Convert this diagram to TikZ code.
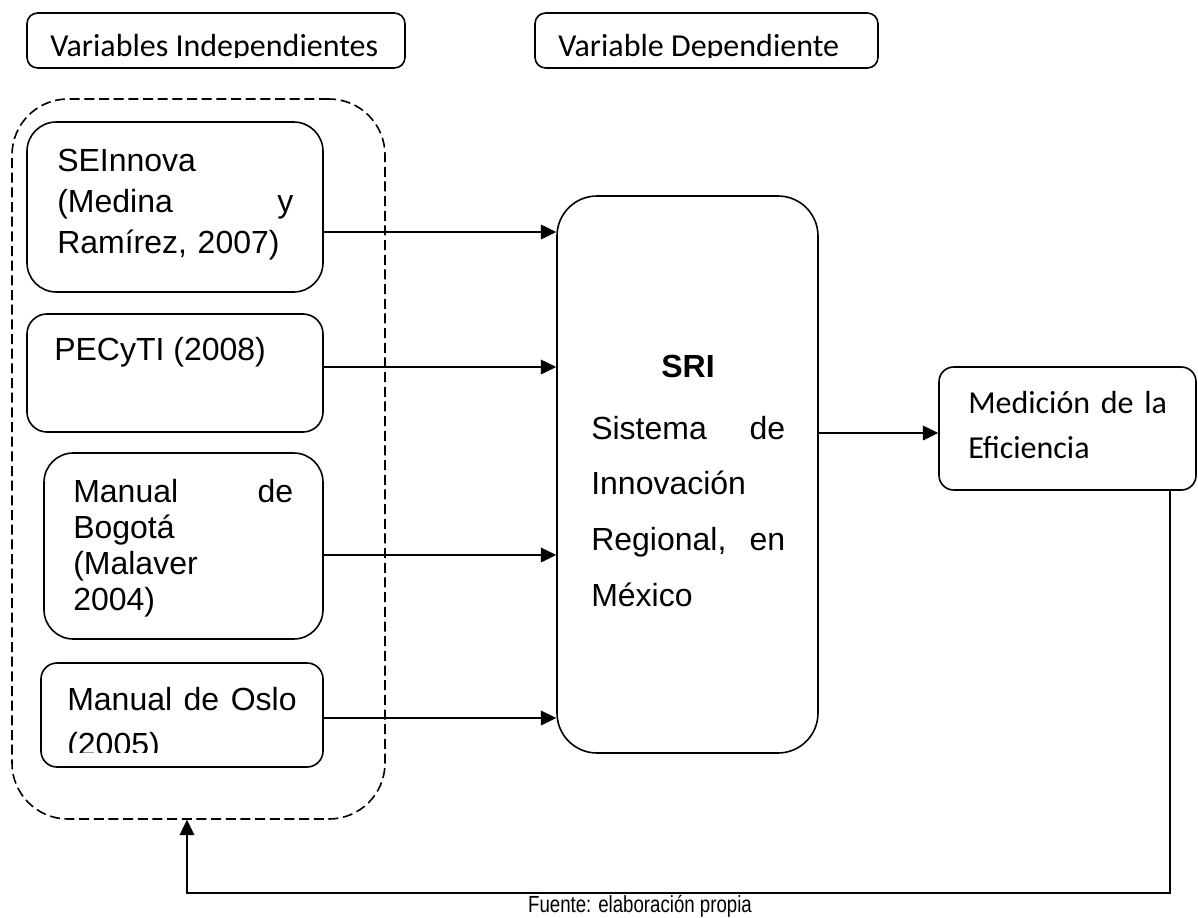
\documentclass[tikz,border=0pt]{standalone}
\usepackage{fontspec}
\setmainfont{Liberation Sans}
\newfontfamily\calibri{Carlito}
\usetikzlibrary{arrows.meta,fit}

\begin{document}
\begin{tikzpicture}[x=0.75pt,y=0.75pt,yscale=-1,xscale=1,
  caja/.style={draw,line width=1.2pt,inner sep=0pt},
  texto/.style={inner sep=0pt,anchor=base west,align=left},
  flecha/.style={line width=1.2pt,-{Triangle[length=11.5pt,width=11pt]}}]
\useasboundingbox (0,0) rectangle (1198,917);

%Headers
\node[caja,rounded corners=8pt,fit={(27,13) (405,68)}] (varind) {};
\node[caja,rounded corners=8pt,fit={(535,13) (878,68)}] (vardep) {};
\begin{scope}
\clip (27,13) rectangle (405,58);
\node[texto,font=\calibri\fontsize{24}{29}\selectfont] (tvarind) at (50,57) {Variables Independientes};
\end{scope}
\begin{scope}
\clip (535,13) rectangle (878,58);
\node[texto,font=\calibri\fontsize{24}{29}\selectfont] (tvardep) at (558,57) {Variable Dependiente};
\end{scope}

%Dashed group
\node[caja,dash pattern=on 7.5pt off 3.5pt,rounded corners=42pt,fit={(12,99) (385,819)}] (grupo) {};

%Independent variables
\node[caja,rounded corners=22pt,fit={(27,122) (323,292)}] (sei) {};
\node[caja,rounded corners=15pt,fit={(27,314) (323,432)}] (pec) {};
\node[caja,rounded corners=22pt,fit={(44,453) (323,639)}] (bog) {};
\node[caja,rounded corners=12pt,fit={(41,663) (323,767)}] (oslo) {};

\node[texto,text width=177pt,font=\fontsize{24}{31}\selectfont] (tsei) at (57,171)
  {SEInnova\\(Medina \hfill y\\Ramírez, 2007)};
\node[texto,font=\fontsize{24}{31}\selectfont] (tpec) at (54,360) {PECyTI (2008)};
\node[texto,text width=165pt,font=\fontsize{24}{27}\selectfont] (tbog) at (73,502)
  {Manual \hfill de\\Bogotá\\(Malaver\\2004)};
\begin{scope}
\clip (41,663) rectangle (323,752);
\node[texto,text width=172pt,font=\fontsize{24}{34}\selectfont] (toslo) at (67,710)
  {Manual \hfill de \hfill Oslo\\(2005)};
\end{scope}

%SRI
\node[caja,rounded corners=30pt,fit={(557,196) (818,753)}] (sri) {};
\node[inner sep=0pt,anchor=base,font=\bfseries\fontsize{24}{31}\selectfont] (tsri) at (688,377) {SRI};
\node[texto,text width=145.5pt,font=\fontsize{24}{41.8}\selectfont] (tsistema) at (591,439)
  {Sistema \hfill de\\Innovación\\Regional, \hfill en\\México};

%Medicion
\node[caja,rounded corners=11pt,fit={(939,367) (1196,490)}] (med) {};
\node[texto,text width=171pt,font=\calibri\fontsize{24}{33.75}\selectfont] (tmed) at (968,413)
  {Medición de la\\Eficiencia};

%Arrows
\coordinate (a1) at (0,232);
\coordinate (a2) at (0,367);
\coordinate (a3) at (0,555);
\coordinate (a4) at (0,718);
\coordinate (a5) at (0,433);
\draw[flecha] (sei.east |- a1) -- (sri.west |- a1);
\draw[flecha] (pec.east |- a2) -- (sri.west |- a2);
\draw[flecha] (bog.east |- a3) -- (sri.west |- a3);
\draw[flecha] (oslo.east |- a4) -- (sri.west |- a4);
\draw[flecha] (sri.east |- a5) -- (med.west |- a5);

%Feedback
\coordinate (r1) at (1170,893);
\coordinate (r2) at (187,893);
\draw[flecha] (med.south -| r1) -- (r1) -- (r2) -- (grupo.south -| r2);

\node[inner sep=0pt,anchor=base,font=\fontsize{14}{16}\selectfont] (fuente) at (640,912)
  {\scalebox{1}[1.25]{Fuente: elaboración propia}};
\end{tikzpicture}
\end{document}
